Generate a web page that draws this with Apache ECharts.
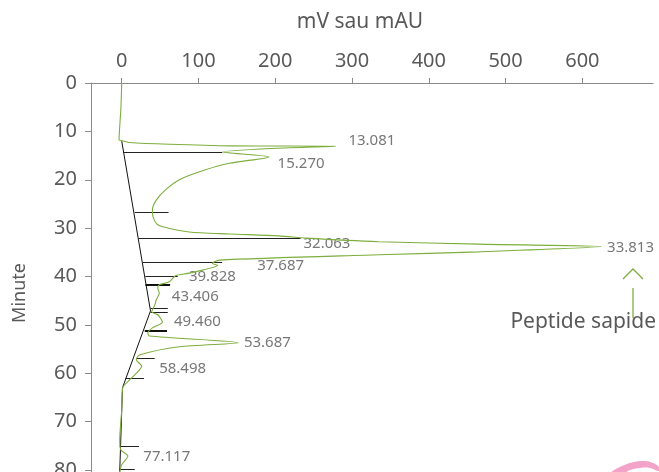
<!DOCTYPE html>
<html><head><meta charset="utf-8">
<script src="https://cdn.jsdelivr.net/npm/echarts@6/dist/echarts.min.js"></script>
<style>html,body{margin:0;padding:0;background:#fff}#c{width:659px;height:472px}</style>
</head><body><div id="c"></div>
<script>
// ---- data ----
const traceTime   = [0, 5, 10, 11.8, 12.0, 12.3, 12.67, 13.0, 13.081, 13.5, 14.26, 15.27, 16.6, 18.0, 20.0, 22.1, 24.2, 26.2, 27.6, 29.1, 29.7, 30.8, 31.2, 31.6, 32.063, 32.8, 33.3, 33.813, 34.9, 35.5, 36.6, 37.3, 37.687, 39.3, 39.828, 41.1, 41.7, 42.4, 43.406, 44.8, 45.9, 47.3, 47.9, 49.46, 50.6, 51.7, 52.3, 53.687, 54.5, 56.2, 57.2, 58.498, 61.4, 63.0, 67.6, 73.8, 75.8, 77.117, 78.9, 80.4];
const traceSignal = [0, -1, -3, -3.5, 2, 10, 62, 141, 279, 200, 131, 192, 140, 108, 75, 57, 45, 40, 40.7, 45.5, 53.6, 88, 140, 205, 240, 335, 465, 625, 465, 335, 127, 118, 125, 88, 70, 62, 49, 47, 49, 45, 43, 39, 47, 53, 40, 34, 36, 152, 75, 23, 19, 26, 10, 1.3, 0, -2.6, -1.3, 8, 0, -2.6];
const baselineTime   = [12.0, 47.1, 63.0, 80.4];
const baselineSignal = [0, 37.5, 1, -2.6];
const dropTime  = [14.26, 26.8, 32.1, 37.1, 39.9, 41.6, 46.5, 47.4, 51.2, 56.9, 61.1, 75.0, 79.8];
const dropStart = [2.4, 17, 22, 27.7, 30.7, 31, 37.7, 37.7, 30, 19, 5, -2.6, -3.5];
const dropEnd   = [131, 61, 233, 130.8, 73, 63, 60, 60, 59, 43, 29, 22.5, 17];
const peakLabels = ['13.081', '15.270', '32.063', '33.813', '37.687', '39.828', '43.406', '49.460', '53.687', '58.498', '77.117'];
const peakSignal = [279, 192, 240, 625, 125, 70, 49, 53, 152, 26, 8];
const xTicks = [0, 100, 200, 300, 400, 500, 600];
const yTicks = [0, 10, 20, 30, 40, 50, 60, 70, 80];
const xName = 'mV sau mAU';
const yName = 'Minute';
const noteText = 'Peptide sapide';

// ---- style ----
const FONT = 'Noto Sans';
const TXT = '#595959';
const AX = '#8a8a8a';
const GREEN = '#7dae3e';
const dropThick = [false, false, false, false, false, true, false, false, true, false, false, false, false];
const labelOffsets = [[12, -6], [8, 7], [-3, 6], [5, 1], [39, 0], [13, 1], [12, 4], [11, -1], [5, 0], [17, 3], [15, 1]];

const chart = echarts.init(document.getElementById('c'));
const dropData = (thick) => dropTime.map((t, i) => ({ t, i }))
  .filter(d => dropThick[d.i] === thick)
  .map(d => ({ coords: [[dropStart[d.i], d.t], [dropEnd[d.i], d.t]] }));

chart.setOption({
  animation: false,
  backgroundColor: '#fff',
  grid: { left: 91, right: 6, top: 83, bottom: 0, containLabel: false, outerBoundsMode: 'none' },
  xAxis: {
    type: 'value', position: 'top', min: -40, max: 692,
    name: xName, nameLocation: 'middle', nameGap: 50,
    nameTextStyle: { fontFamily: FONT, fontSize: 21, color: TXT, padding: [0, 24, 0, 0] },
    axisLine: { show: true, onZero: false, lineStyle: { color: AX, width: 1 } },
    axisTick: { show: true, length: 5, customValues: xTicks, lineStyle: { color: AX } },
    axisLabel: { customValues: xTicks, fontFamily: FONT, fontSize: 20, color: TXT, margin: 12 },
    splitLine: { show: false }
  },
  yAxis: {
    type: 'value', inverse: true, min: 0, max: 80.4,
    name: yName, nameLocation: 'middle', nameGap: 62,
    nameTextStyle: { fontFamily: FONT, fontSize: 18, color: TXT, padding: [0, 31, 0, 0] },
    axisLine: { show: true, onZero: false, lineStyle: { color: AX, width: 1 } },
    axisTick: { show: true, length: 6, customValues: yTicks, lineStyle: { color: AX } },
    axisLabel: { customValues: yTicks, fontFamily: FONT, fontSize: 20, color: TXT, margin: 14 },
    splitLine: { show: false }
  },
  series: [
    {
      type: 'line', symbol: 'none', silent: true,
      data: baselineTime.map((t, i) => [baselineSignal[i], t]),
      lineStyle: { color: '#111', width: 1 }
    },
    {
      type: 'lines', coordinateSystem: 'cartesian2d', silent: true,
      data: dropData(false),
      lineStyle: { color: '#222', width: 1, opacity: 1 }
    },
    {
      type: 'lines', coordinateSystem: 'cartesian2d', silent: true,
      data: dropData(true),
      lineStyle: { color: '#111', width: 2, opacity: 1 }
    },
    {
      type: 'line', symbol: 'none', silent: true, smooth: 0.25,
      data: traceTime.map((t, i) => [traceSignal[i], t]),
      lineStyle: { color: GREEN, width: 1.1 }
    },
    {
      type: 'scatter', silent: true, symbolSize: 1,
      itemStyle: { color: 'rgba(0,0,0,0)' },
      data: peakLabels.map((l, i) => ({
        value: [peakSignal[i], parseFloat(l)], name: l,
        label: { offset: labelOffsets[i] }
      })),
      label: {
        show: true, position: 'right', distance: 0,
        formatter: p => p.name,
        fontFamily: FONT, fontSize: 15, color: '#555'
      }
    }
  ],
  graphic: [
    { type: 'polyline', shape: { points: [[623, 279], [633, 269], [643, 279]] }, style: { stroke: GREEN, lineWidth: 1.3, fill: null } },
    { type: 'line', shape: { x1: 633, y1: 288, x2: 633, y2: 318 }, style: { stroke: GREEN, lineWidth: 1.3 } },
    { type: 'text', x: 656, y: 322, style: { text: noteText, fontFamily: FONT, fontSize: 21, fill: TXT, align: 'right', verticalAlign: 'middle' } },
    { type: 'polygon', shape: { smooth: 0.4, points: [[612, 472], [622, 466], [634, 462], [645, 461], [653, 463], [659, 467], [659, 471], [650, 468], [640, 468], [630, 470], [626, 472]] }, style: { fill: '#f4a3c8' } }
  ]
});
</script>
</body></html>
